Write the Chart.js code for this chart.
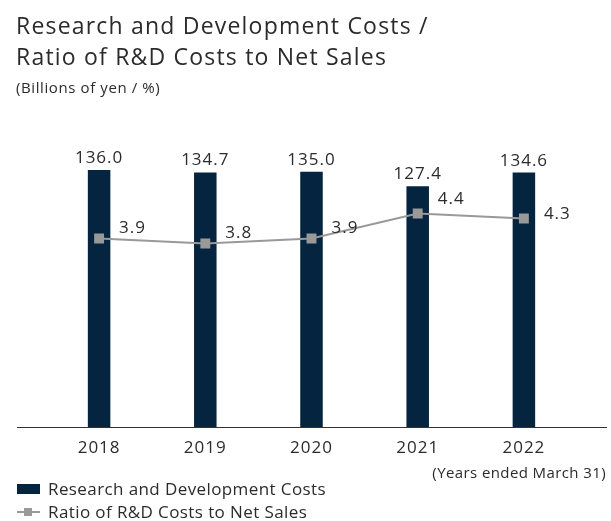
<!DOCTYPE html>
<html>
<head>
<meta charset="utf-8">
<script src="https://cdn.jsdelivr.net/npm/chart.js@4"></script>
<style>
  html, body { margin: 0; padding: 0; background: #fff; }
  body { width: 611px; height: 521px; position: relative; overflow: hidden;
         font-family: "Open Sans", "Noto Sans", sans-serif; color: #2b2b2b; }
  #chart { position: absolute; left: 0; top: 0; }
  .t { position: absolute; white-space: nowrap; }
  #title { left: 16px; top: 10px; font-size: 23px; line-height: 31px; letter-spacing: 1.2px; }
  #unit { left: 16px; top: 77px; font-size: 15px; letter-spacing: 0.6px; }
  #note { right: 5px; top: 462px; font-size: 15px; letter-spacing: 0.4px; }
  .leg { position: absolute; left: 17px; font-size: 17px; letter-spacing: 0.4px; }
  .leg span.txt { position: absolute; left: 31px; top: -12px; white-space: nowrap; }
  #legBar { top: 489px; }
  #legBar .sw { position: absolute; left: 0; top: -5px; width: 23px; height: 10px; background: #05243f; }
  #legLine { top: 512px; }
  #legLine .ln { position: absolute; left: 0; top: -1px; width: 23px; height: 2px; background: #999; }
  #legLine .mk { position: absolute; left: 7px; top: -4px; width: 8px; height: 8px; background: #999; }
</style>
</head>
<body>
<canvas id="chart" width="611" height="521"></canvas>
<div class="t" id="title">Research and Development Costs /<br>Ratio of R&amp;D Costs to Net Sales</div>
<div class="t" id="unit">(Billions of yen / %)</div>
<div class="t" id="note">(Years ended March 31)</div>
<div class="leg" id="legBar"><div class="sw"></div><span class="txt">Research and Development Costs</span></div>
<div class="leg" id="legLine"><div class="ln"></div><div class="mk"></div><span class="txt">Ratio of R&amp;D Costs to Net Sales</span></div>
<script>
// Fiscal years (ended March 31)
const years = ['2018', '2019', '2020', '2021', '2022'];
// R&D costs, billions of yen
const rdCosts = [136.0, 134.7, 135.0, 127.4, 134.6];
// R&D costs as a share of net sales, %
const rdRatio = [3.9, 3.8, 3.9, 4.4, 4.3];

const BAR_COLOR = '#05243f';
const LINE_COLOR = '#999999';
const FONT_FAMILY = '"Open Sans", "Noto Sans", sans-serif';

// Slightly tracked-out canvas text, like the surrounding page text
const trackingPlugin = {
  id: 'tracking',
  beforeDraw(chart) { chart.ctx.letterSpacing = '1px'; }
};

// Draws the horizontal baseline slightly wider than the plot area
const baselinePlugin = {
  id: 'baseline',
  beforeDatasetsDraw(chart) {
    const y = Math.round(chart.scales.y.getPixelForValue(0)) + 0.5;
    const ctx = chart.ctx;
    ctx.save();
    ctx.strokeStyle = '#333';
    ctx.lineWidth = 1;
    ctx.beginPath();
    ctx.moveTo(17, y);
    ctx.lineTo(607, y);
    ctx.stroke();
    ctx.restore();
  }
};

// Value labels: above each bar, and to the upper right of each ratio point
const valueLabels = {
  id: 'valueLabels',
  afterDatasetsDraw(chart, args, opts) {
    const ctx = chart.ctx;
    ctx.save();
    ctx.fillStyle = '#2b2b2b';
    ctx.letterSpacing = '1px';
    ctx.font = '17px ' + FONT_FAMILY;
    const barMeta = chart.getDatasetMeta(1);
    ctx.textAlign = 'center';
    ctx.textBaseline = 'alphabetic';
    barMeta.data.forEach((el, i) => {
      ctx.fillText(rdCosts[i].toFixed(1), el.x, el.y - 7);
    });
    const lineMeta = chart.getDatasetMeta(0);
    ctx.textAlign = 'left';
    ctx.textBaseline = 'middle';
    lineMeta.data.forEach((el, i) => {
      ctx.fillText(rdRatio[i].toFixed(1), el.x + 20, el.y + opts.dy[i]);
    });
    ctx.restore();
  }
};

new Chart(document.getElementById('chart'), {
  data: {
    labels: years,
    datasets: [
      {
        type: 'line',
        label: 'Ratio of R&D Costs to Net Sales',
        data: rdRatio,
        yAxisID: 'y1',
        borderColor: LINE_COLOR,
        borderWidth: 2,
        pointStyle: 'rect',
        pointRadius: 7,
        pointBackgroundColor: LINE_COLOR,
        pointBorderWidth: 0,
        tension: 0,
        order: 1
      },
      {
        type: 'bar',
        label: 'Research and Development Costs',
        data: rdCosts,
        yAxisID: 'y',
        backgroundColor: BAR_COLOR,
        barPercentage: 0.212,
        categoryPercentage: 1,
        order: 2
      }
    ]
  },
  options: {
    responsive: false,
    animation: false,
    devicePixelRatio: 1,
    layout: { padding: { left: 46, right: 34, top: 143.5, bottom: 54 } },
    plugins: {
      legend: { display: false },
      tooltip: { enabled: false },
      valueLabels: { dy: [-10, -10, -10, -14, -4] }
    },
    scales: {
      x: {
        offset: true,
        border: { display: false },
        grid: { display: false, drawTicks: false },
        ticks: { color: '#2b2b2b', padding: 11, font: { family: FONT_FAMILY, size: 17 } },
        afterFit(scale) { scale.height = 40; }
      },
      y: { display: false, min: 0, max: 150 },
      y1: { display: false, min: 0.13, max: 5.80 }
    }
  },
  plugins: [trackingPlugin, baselinePlugin, valueLabels]
});
</script>
</body>
</html>
